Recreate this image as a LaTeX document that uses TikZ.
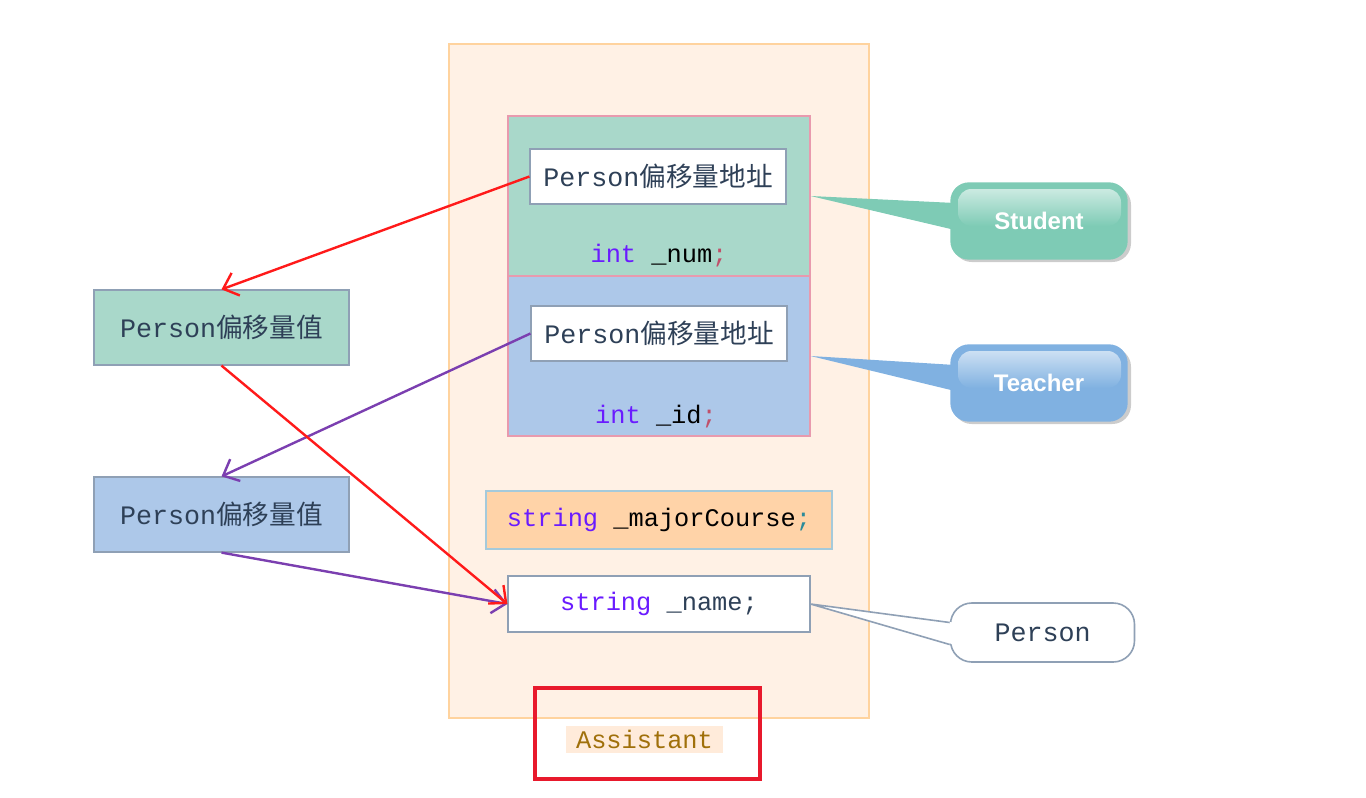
\documentclass[tikz,border=0pt]{standalone}
\usepackage{fontspec}
\setmonofont{Liberation Mono}
\setsansfont{Liberation Sans}
\newfontfamily\cjk{Noto Sans CJK SC}
\usetikzlibrary{arrows.meta}
\definecolor{panelfill}{HTML}{FFF1E5}
\definecolor{paneldraw}{HTML}{FFD39E}
\definecolor{grnfill}{HTML}{A9D8CA}
\definecolor{blufill}{HTML}{ADC8E9}
\definecolor{pinkdraw}{HTML}{E89AAE}
\definecolor{greydraw}{HTML}{8FA0B5}
\definecolor{majfill}{HTML}{FFD3A8}
\definecolor{majdraw}{HTML}{A5CADB}
\definecolor{stucol}{HTML}{7ECBB5}
\definecolor{teacol}{HTML}{80B1E1}
\definecolor{txtcol}{HTML}{2E4057}
\definecolor{kwcol}{HTML}{6A1BFF}
\definecolor{semired}{HTML}{C0506A}
\definecolor{semiteal}{HTML}{2A8A9A}
\definecolor{asscol}{HTML}{A0700A}
\definecolor{assbg}{HTML}{FFEBDA}
\definecolor{redarr}{HTML}{FF1A1A}
\definecolor{purarr}{HTML}{7B3FB0}
\definecolor{redframe}{HTML}{E8192C}
\tikzset{
  box/.style={draw=greydraw, line width=0.9pt, inner sep=0pt, font=\ttfamily\fontsize{20}{24}\selectfont, text=txtcol},
  code/.style={inner sep=0pt, font=\ttfamily\fontsize{19}{23}\selectfont},
  arr/.style={line width=1.8pt, -{Straight Barb[length=10pt,width=18pt,line width=1.8pt]}},
  callout/.style={rounded corners=14pt, inner sep=0pt, minimum width=133pt, minimum height=58pt}
}
\begin{document}
\begin{tikzpicture}[x=0.75pt,y=-0.75pt]
\useasboundingbox (0,0) rectangle (1366,797);
% outer panel
\node[draw=paneldraw, fill=panelfill, line width=0.9pt, minimum width=315pt, minimum height=505.5pt, inner sep=0pt] (panel) at (659,381) {};
% student / teacher blocks
\node[draw=pinkdraw, fill=grnfill, line width=0.9pt, minimum width=226.5pt, minimum height=120pt, inner sep=0pt] (sbox) at (659,196) {};
\node[draw=pinkdraw, fill=blufill, line width=0.9pt, minimum width=226.5pt, minimum height=120pt, inner sep=0pt] (tbox) at (659,356) {};
\node[box, fill=white, minimum width=192pt, minimum height=41.25pt] (in1) at (658,176.5) {Person{\cjk 偏移量地址}};
\node[box, fill=white, minimum width=192pt, minimum height=41.25pt] (in2) at (659,333.5) {Person{\cjk 偏移量地址}};
\node[code] (num) at (659,256) {\textcolor{kwcol}{int} \textcolor{black}{\_num}\textcolor{semired}{;}};
\node[code] (id) at (656,417) {\textcolor{kwcol}{int} \textcolor{black}{\_id}\textcolor{semired}{;}};
% major course
\node[draw=majdraw, fill=majfill, line width=0.9pt, minimum width=259.5pt, minimum height=43.5pt, inner sep=0pt, code] (maj) at (659,520) {\textcolor{kwcol}{string} \textcolor{black}{\_majorCourse}\textcolor{semiteal}{;}};
% name
\node[box, fill=white, minimum width=226.5pt, minimum height=42pt, font=\ttfamily\fontsize{19}{23}\selectfont] (name) at (659,604) {\textcolor{kwcol}{string} \_name;};
% left boxes
\node[box, fill=grnfill, minimum width=191.25pt, minimum height=56.25pt] (lg) at (221.5,327.5) {Person{\cjk 偏移量值}};
\node[box, fill=blufill, minimum width=191.25pt, minimum height=56.25pt] (lb) at (221.5,514.5) {Person{\cjk 偏移量值}};
% arrows
\draw[arr, draw=redarr] (in1.west) -- (lg.north);
\draw[arr, draw=purarr] (in2.west) -- (lb.north);
\draw[arr, draw=purarr] (lb.south) -- (name.west);
\draw[arr, draw=redarr] (lg.south) -- (name.west);
% Student callout
\coordinate (sa) at (955,203);
\coordinate (sb) at (955,230);
\fill[black!20, rounded corners=14pt] (953,186) rectangle (1131,262);
\fill[stucol] (sbox.east) -- (sa) -- (sb) -- cycle;
\node[callout, fill=stucol] (stu) at (1039,221) {};
\shade[rounded corners=10pt, top color=white!60!stucol, bottom color=stucol] (958,189) rectangle (1121,226);
\node[font=\sffamily\bfseries\fontsize{18}{22}\selectfont, text=white] at (stu.center) {Student};
% Teacher callout
\coordinate (ta) at (955,365);
\coordinate (tb) at (955,391);
\fill[black!20, rounded corners=14pt] (953,348) rectangle (1131,424);
\fill[teacol] (tbox.east) -- (ta) -- (tb) -- cycle;
\node[callout, fill=teacol] (tea) at (1039,383) {};
\shade[rounded corners=10pt, top color=white!60!teacol, bottom color=teacol] (958,351) rectangle (1121,388);
\node[font=\sffamily\bfseries\fontsize{18}{22}\selectfont, text=white] at (tea.center) {Teacher};
% Person callout
\node[draw=greydraw, fill=white, line width=1.2pt, rounded corners=16pt, minimum width=138pt, minimum height=44.25pt, inner sep=0pt, font=\ttfamily\fontsize{20}{24}\selectfont, text=txtcol] (per) at (1042.5,632.5) {Person};
\coordinate (pa) at ([yshift=7.5pt]per.west);
\coordinate (pb) at ([yshift=-9pt]per.west);
\fill[white] ([xshift=3pt]pa) -- (name.east) -- ([xshift=3pt]pb) -- cycle;
\draw[greydraw, line width=1.2pt, line join=round] (pa) -- (name.east) -- (pb);
% Assistant
\node[fill=assbg, minimum width=117.75pt, minimum height=20.25pt, inner sep=0pt, code, text=asscol] (ass) at (644.5,739) {Assistant};
\node[draw=redframe, line width=3pt, minimum width=168.75pt, minimum height=68.25pt, inner sep=0pt] (frame) at (647.5,733.5) {};
\end{tikzpicture}
\end{document}
